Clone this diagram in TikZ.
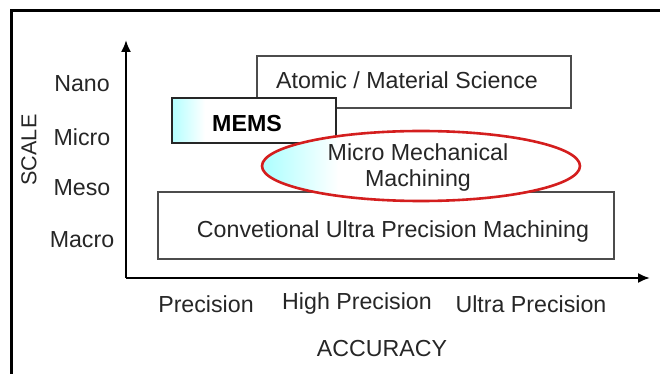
\documentclass[tikz,border=0pt]{standalone}
\usepackage{fontspec}
\setmainfont{Liberation Sans}
\pgfdeclarehorizontalshading{memsfade}{100bp}{color(0bp)=(cyan!30!white); color(25bp)=(cyan!30!white); color(35bp)=(white); color(100bp)=(white)}
\pgfdeclarehorizontalshading{ellfade}{100bp}{color(0bp)=(cyan!30!white); color(26bp)=(cyan!30!white); color(37bp)=(white); color(100bp)=(white)}
\tikzset{
  lbl/.style={font=\fontsize{11.6}{13}\selectfont, inner sep=0pt, text=black!85},
  region/.style={draw=black!70, line width=1pt, fill=white},
  axis/.style={draw=black, line width=1pt, -{Latex[length=6pt,width=5pt]}},
}
\usetikzlibrary{arrows.meta,shapes.geometric}
\begin{document}
\begin{tikzpicture}[x=0.5pt,y=-0.5pt]
\useasboundingbox (0,0) rectangle (660,374);
% frame
\draw[line width=1.5pt] (11,374) -- (11,11) -- (660,11);
% axes
\coordinate (o) at (126,278);
\coordinate (ytip) at (126,40);
\coordinate (xtip) at (650,278);
\draw[axis] (o) -- (ytip);
\draw[axis] (o) -- (xtip);
% regions
\node[region, minimum width=157pt, minimum height=26pt, anchor=north west] (atomic) at (256,55) {};
\node[lbl] (atomictxt) at (407,80) {Atomic / Material Science};
\node[region, draw=black!85, shading=memsfade, minimum width=82pt, minimum height=22.5pt, anchor=north west] (mems) at (171,97) {};
\node[lbl, text=black] (memstxt) at (247,124) {\textbf{MEMS}};
\node[region, minimum width=228pt, minimum height=33.5pt, anchor=north west] (conv) at (157,191) {};
\node[lbl] (convtxt) at (393,232) {Convetional Ultra Precision Machining};
\node[ellipse, draw={rgb,255:red,212;green,30;blue,30}, line width=1.3pt, shading=ellfade, minimum width=159pt, minimum height=35pt, inner sep=0pt] (mmm) at (421,166) {};
\node[lbl] (mmmtxt1) at (418,152) {Micro Mechanical};
\node[lbl] (mmmtxt2) at (418,181) {Machining};
% scale labels
\node[lbl] (nano) at (82,84) {Nano};
\node[lbl] (micro) at (82,137) {Micro};
\node[lbl] (meso) at (82,188) {Meso};
\node[lbl] (macro) at (82,240) {Macro};
\node[lbl, font=\fontsize{10.8}{12}\selectfont, rotate=90] (scale) at (29,150) {SCALE};
% accuracy labels
\node[lbl] (prec) at (206,304) {Precision};
\node[lbl] (hprec) at (357,304) {High Precision};
\node[lbl] (uprec) at (531,304) {Ultra Precision};
\node[lbl] (acc) at (382,349) {ACCURACY};
\end{tikzpicture}
\end{document}
